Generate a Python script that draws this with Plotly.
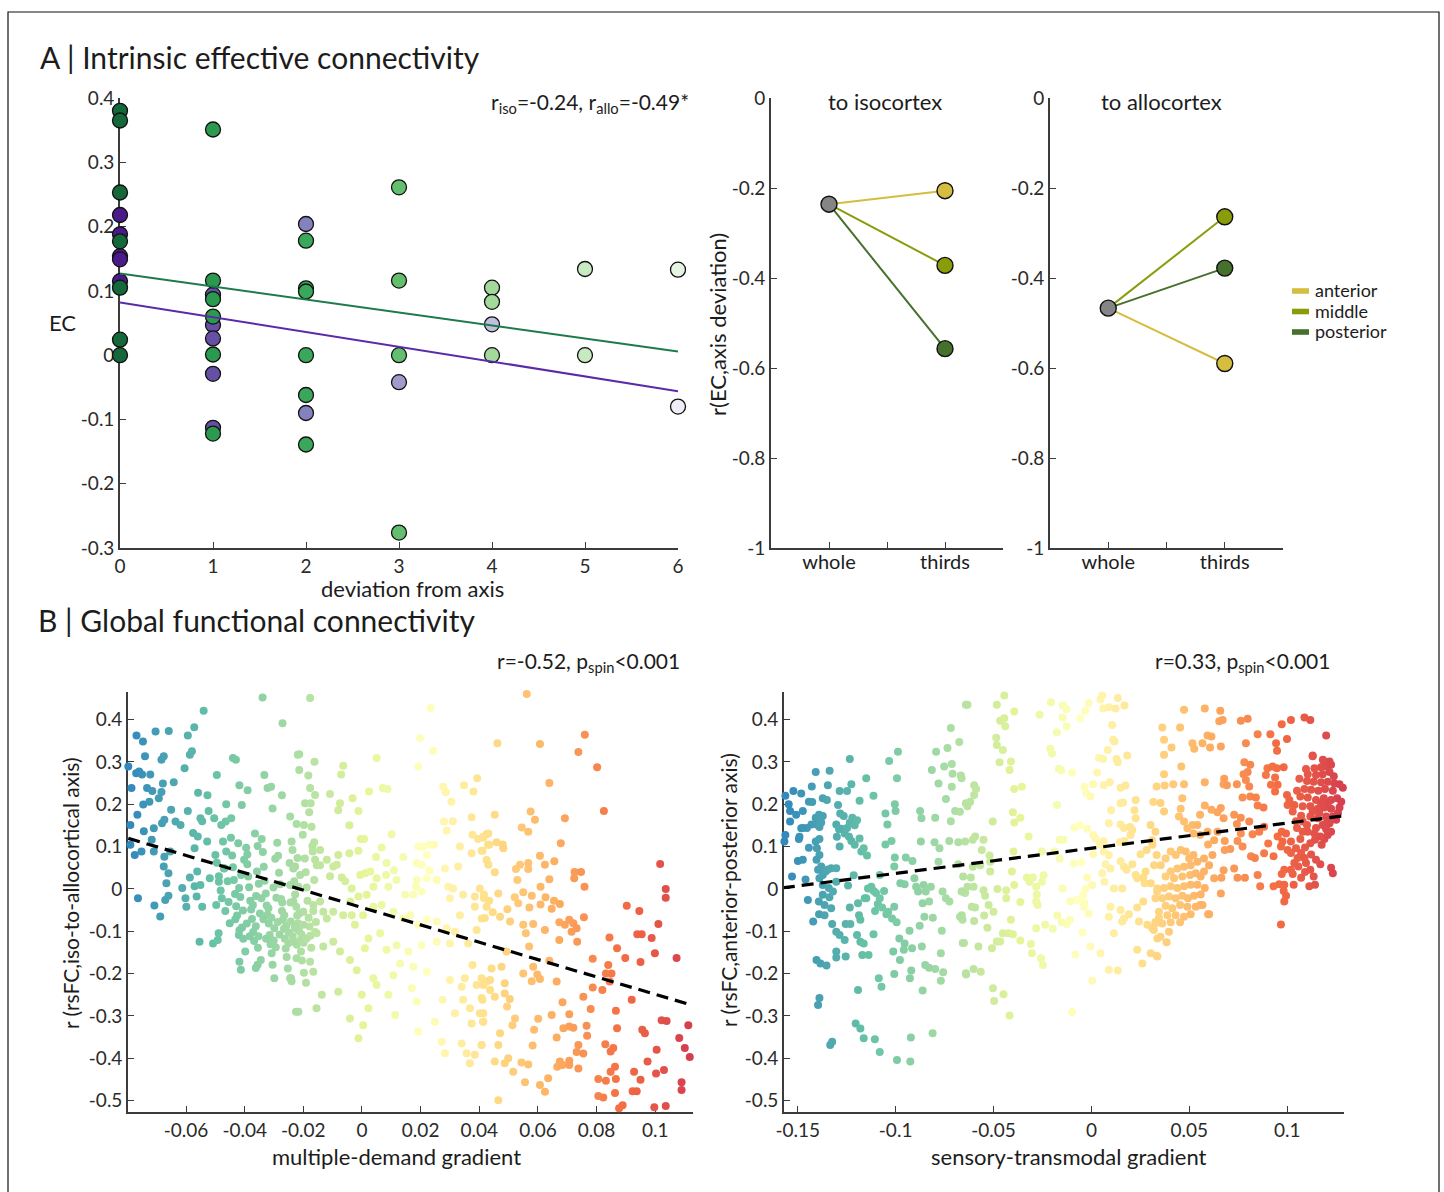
import plotly.graph_objects as go

# ---------------------------------------------------------------- canvas
W, H = 1444, 1192
FONT = "Lato, 'Open Sans', sans-serif"
INK = "#1c1c1c"
AXC = "#3c3c3c"

# ---------------------------------------------------------------- A: EC vs deviation
dev_ticks = [0, 1, 2, 3, 4, 5, 6]
ec_ticks = [-0.3, -0.2, -0.1, 0, 0.1, 0.2, 0.3, 0.4]

green_dev = [0, 0, 0, 0, 0, 0, 0, 1, 1, 1, 1, 1, 1, 2, 2, 2, 2, 2, 2, 3, 3, 3, 3, 4, 4, 4, 5, 5, 6]
green_ec = [0.380, 0.365, 0.253, 0.177, 0.105, 0.024, 0.000,
            0.351, 0.116, 0.087, 0.060, 0.001, -0.122,
            0.178, 0.104, 0.099, 0.000, -0.062, -0.139,
            0.261, 0.116, 0.000, -0.276,
            0.105, 0.083, 0.000,
            0.134, 0.000,
            0.133]
purple_dev = [0, 0, 0, 0, 0, 1, 1, 1, 1, 1, 2, 2, 3, 4, 6]
purple_ec = [0.218, 0.188, 0.154, 0.149, 0.115,
             0.094, 0.047, 0.026, -0.029, -0.113,
             0.204, -0.090,
             -0.042,
             0.048,
             -0.080]
green_shades = ["#15683a", "#2b9a4e", "#3aa85a", "#63be6d", "#a3da9c", "#c8eac1", "#e6f5e1"]
purple_shades = ["#4a1a8a", "#6650a6", "#8580c0", "#9f9bcb", "#c0c0de", "#dcdaee", "#efedf6"]
green_fit = (0.127, -0.0202)    # intercept, slope
purple_fit = (0.082, -0.0230)

# ---------------------------------------------------------------- A: correlations by thirds
region_names = ["anterior", "middle", "posterior"]
region_colors = ["#d5bd40", "#8b9c0b", "#45712d"]
stage_pos = [1, 2]
stage_labels = ["whole", "thirds"]
iso_whole = -0.236
iso_thirds = [-0.206, -0.372, -0.557]
allo_whole = -0.467
allo_thirds = [-0.590, -0.264, -0.378]
r_ticks = [-1, -0.8, -0.6, -0.4, -0.2, 0]

# ---------------------------------------------------------------- B: multiple-demand gradient
md_edge = [(-0.0797, 0.289), (-0.0786, 0.238), (-0.0790, 0.151), (-0.0790, 0.104), (-0.0775, 0.080),
           (-0.0770, 0.273), (-0.0760, 0.277), (-0.0750, 0.270), (-0.0769, 0.362), (-0.0747, 0.348),
           (-0.0740, 0.313), (-0.0766, 0.175), (-0.0746, 0.199), (-0.0744, 0.136), (-0.0752, 0.088),
           (-0.0764, -0.022), (-0.0722, 0.270), (-0.0733, 0.238), (-0.0725, 0.206), (-0.0715, 0.231),
           (-0.0717, 0.116), (-0.0710, 0.088), (-0.0704, 0.372), (-0.0684, 0.305), (-0.0676, 0.313),
           (-0.0693, 0.214), (-0.0684, 0.229), (-0.0679, 0.249), (-0.0682, 0.155), (-0.0674, 0.163),
           (-0.0710, 0.143), (-0.0659, 0.373), (-0.0642, 0.252), (-0.0651, 0.187), (-0.0674, 0.076),
           (-0.0676, 0.053), (-0.0660, 0.037), (-0.0654, 0.088), (-0.0667, 0.013), (-0.0660, -0.016),
           (-0.0671, -0.026), (-0.0708, -0.039), (-0.0688, -0.065), (-0.0636, 0.159), (-0.0619, 0.151),
           (-0.0613, 0.002), (-0.0602, -0.022), (-0.0599, -0.042), (-0.0594, 0.362), (-0.0587, 0.317),
           (-0.0605, 0.285), (-0.0594, 0.184), (-0.0572, 0.382), (-0.0580, 0.325), (-0.0576, 0.132),
           (-0.0571, 0.096), (-0.0587, 0.027), (-0.0571, 0.006), (-0.0560, 0.124), (-0.0562, 0.041),
           (-0.0551, 0.167), (-0.0540, 0.421), (-0.0559, 0.227), (-0.0545, 0.160), (-0.0551, 0.009),
           (-0.0564, -0.018), (-0.0545, -0.042), (-0.0554, -0.125), (-0.0527, 0.221), (-0.0523, 0.184),
           (-0.0528, 0.112), (-0.0519, 0.025), (-0.0500, 0.080), (-0.0495, 0.269), (-0.0504, 0.167),
           (-0.0508, -0.129), (-0.0492, -0.121), (-0.0489, -0.105), (-0.0497, -0.038), (-0.0488, 0.017)]
md_teal = [(-0.0474, 0.112), (-0.0469, 0.049), (-0.0463, 0.200), (-0.0465, 0.159), (-0.0480, 0.151),
           (-0.0446, 0.167), (-0.0440, 0.309), (-0.0430, 0.305), (-0.0418, 0.245), (-0.0410, 0.198),
           (-0.0420, -0.109), (-0.0418, -0.172), (-0.0413, -0.191), (-0.0390, 0.233), (-0.0362, -0.187),
           (-0.0356, -0.179), (-0.0339, 0.452), (-0.0333, 0.269), (-0.0322, 0.238), (-0.0310, 0.241),
           (-0.0305, 0.190), (-0.0299, -0.211), (-0.0271, 0.391), (-0.0273, 0.221), (-0.0242, -0.211),
           (-0.0225, -0.290), (-0.0219, 0.317)]
md_core = [(-0.0495, 0.062), (-0.0488, 0.030), (-0.0482, -0.004), (-0.0478, -0.022), (-0.0471, 0.048),
           (-0.0466, -0.052), (-0.0463, 0.088), (-0.0458, 0.018), (-0.0455, -0.031), (-0.0451, -0.081),
           (-0.0447, 0.121), (-0.0443, 0.079), (-0.0440, 0.051), (-0.0437, 0.021), (-0.0433, -0.012),
           (-0.0429, -0.041), (-0.0426, -0.063), (-0.0422, 0.108), (-0.0419, 0.002), (-0.0415, -0.019),
           (-0.0412, 0.033), (-0.0409, -0.091), (-0.0405, -0.118), (-0.0402, 0.069), (-0.0398, -0.148),
           (-0.0395, 0.097), (-0.0391, 0.058), (-0.0388, 0.029), (-0.0385, 0.004), (-0.0381, -0.028),
           (-0.0378, -0.049), (-0.0375, -0.071), (-0.0371, -0.102), (-0.0368, -0.123), (-0.0365, 0.131),
           (-0.0361, -0.017), (-0.0358, 0.041), (-0.0355, -0.139), (-0.0352, 0.012), (-0.0348, -0.058),
           (-0.0345, -0.168), (-0.0342, 0.118), (-0.0338, 0.087), (-0.0335, 0.052), (-0.0332, 0.019),
           (-0.0328, -0.011), (-0.0325, -0.039), (-0.0322, -0.061), (-0.0318, -0.082), (-0.0315, -0.109),
           (-0.0312, -0.131), (-0.0308, -0.152), (-0.0305, -0.179), (-0.0302, 0.003), (-0.0299, -0.093),
           (-0.0296, 0.071), (-0.0292, -0.021), (-0.0289, 0.109), (-0.0286, 0.078), (-0.0283, 0.038),
           (-0.0279, 0.011), (-0.0276, -0.024), (-0.0273, -0.052), (-0.0270, -0.073), (-0.0266, -0.094),
           (-0.0263, -0.118), (-0.0260, -0.141), (-0.0257, -0.161), (-0.0253, -0.188), (-0.0250, -0.103),
           (-0.0247, 0.061), (-0.0244, -0.032), (-0.0240, -0.218), (-0.0237, 0.092), (-0.0234, 0.048),
           (-0.0231, 0.018), (-0.0228, -0.013), (-0.0224, -0.042), (-0.0221, -0.063), (-0.0218, -0.081),
           (-0.0215, -0.099), (-0.0211, -0.122), (-0.0208, -0.148), (-0.0205, -0.169), (-0.0202, 0.128),
           (-0.0198, -0.198), (-0.0195, 0.072), (-0.0192, 0.039), (-0.0189, 0.003), (-0.0186, -0.028),
           (-0.0182, -0.068), (-0.0179, -0.089), (-0.0176, -0.111), (-0.0173, -0.139), (-0.0169, 0.101),
           (-0.0166, -0.052), (-0.0163, 0.021), (-0.0160, -0.102), (-0.0157, -0.078), (-0.0154, 0.056),
           (-0.0432, -0.072), (-0.0418, -0.098), (-0.0406, -0.051), (-0.0393, -0.082), (-0.0383, -0.112),
           (-0.0372, -0.038), (-0.0362, -0.088), (-0.0353, -0.112), (-0.0343, -0.022), (-0.0336, -0.072),
           (-0.0327, -0.118), (-0.0319, -0.046), (-0.0309, -0.068), (-0.0301, -0.122), (-0.0294, -0.138),
           (-0.0287, -0.078), (-0.0281, -0.108), (-0.0272, -0.032), (-0.0265, -0.062), (-0.0258, -0.087),
           (-0.0251, -0.128), (-0.0243, -0.077), (-0.0236, -0.112), (-0.0229, -0.091), (-0.0222, -0.132),
           (-0.0214, -0.058), (-0.0206, -0.108), (-0.0199, -0.127), (-0.0391, 0.081), (-0.0356, 0.101)]
md_mid = [(-0.0177, 0.451), (-0.0214, 0.318), (-0.0214, 0.281), (-0.0162, 0.300), (-0.0183, 0.268),
          (-0.0064, 0.291), (-0.0071, 0.270), (-0.0177, 0.238), (-0.0160, 0.222), (-0.0109, 0.224),
          (-0.0194, 0.202), (-0.0175, 0.202), (-0.0180, 0.181), (-0.0075, 0.202), (-0.0081, 0.186),
          (-0.0032, 0.214), (-0.0012, 0.184), (-0.0043, 0.150), (0.0024, 0.230), (0.0050, 0.309),
          (0.0071, 0.238), (0.0087, 0.236), (-0.0198, 0.151), (-0.0172, 0.147), (-0.0223, 0.153),
          (-0.0245, 0.171), (-0.0240, 0.112), (-0.0163, 0.110), (-0.0168, 0.088), (-0.0143, 0.092),
          (-0.0160, 0.069), (-0.0143, 0.056), (-0.0120, 0.069), (-0.0098, 0.053), (-0.0086, 0.057),
          (-0.0109, 0.030), (-0.0081, 0.080), (-0.0043, 0.084), (-0.0012, 0.090), (-0.0004, 0.118),
          (0.0007, 0.118), (0.0067, 0.098), (0.0101, 0.129), (0.0048, 0.075), (0.0084, 0.061),
          (0.0141, 0.075), (-0.0220, 0.073), (-0.0228, 0.053), (-0.0211, 0.033), (-0.0245, 0.009),
          (-0.0217, 0.005), (-0.0069, 0.027), (-0.0057, 0.018), (-0.0006, 0.033), (0.0011, 0.037),
          (0.0028, 0.041), (0.0050, 0.025), (0.0082, 0.033), (0.0109, 0.044), (0.0118, 0.021),
          (0.0090, 0.005), (0.0039, 0.005), (-0.0035, 0.001), (0.0016, -0.014), (-0.0012, -0.018),
          (-0.0040, -0.030), (0.0147, -0.014), (0.0175, -0.014), (0.0184, 0.005), (0.0187, 0.021),
          (0.0203, -0.006), (0.0221, 0.025), (0.0255, 0.021), (0.0230, 0.044), (0.0187, 0.061),
          (0.0203, 0.057), (0.0221, 0.080), (0.0192, 0.100), (0.0209, 0.100), (0.0230, 0.104),
          (0.0246, 0.104), (0.0283, 0.048), (0.0328, 0.053), (0.0294, 0.005), (0.0311, 0.001),
          (0.0345, -0.014), (0.0385, -0.018), (0.0402, 0.001), (0.0416, -0.022), (0.0334, 0.100),
          (0.0192, 0.289), (0.0198, 0.356), (0.0243, 0.326), (0.0234, 0.427), (0.0391, 0.468),
          (0.0277, 0.241), (0.0286, 0.228), (0.0305, 0.206), (0.0280, 0.159), (0.0310, 0.160),
          (0.0289, 0.137), (0.0348, 0.245), (0.0380, 0.230), (0.0393, 0.261), (0.0374, 0.169),
          (0.0377, 0.128), (0.0396, 0.118), (0.0413, 0.123), (0.0425, 0.129), (0.0408, 0.090),
          (0.0430, 0.104), (0.0374, 0.084), (-0.0234, -0.030), (-0.0200, -0.054), (-0.0166, -0.038),
          (-0.0143, -0.030), (-0.0132, -0.054), (-0.0120, -0.070), (-0.0098, -0.054), (-0.0064, -0.062),
          (-0.0035, -0.062), (-0.0024, -0.085), (0.0004, -0.062), (0.0039, -0.042), (0.0067, -0.038),
          (0.0107, -0.054), (0.0141, -0.070), (0.0164, -0.062), (0.0192, -0.085), (0.0221, -0.073),
          (0.0255, -0.077), (-0.0228, -0.093), (-0.0200, -0.085), (-0.0234, -0.125), (-0.0189, -0.117),
          (-0.0155, -0.105), (-0.0132, -0.136), (-0.0098, -0.125), (-0.0075, -0.148), (-0.0041, -0.168),
          (0.0010, -0.140), (0.0022, -0.117), (0.0062, -0.105), (0.0084, -0.144), (0.0118, -0.133),
          (0.0158, -0.148), (0.0130, -0.176), (0.0107, -0.204), (0.0175, -0.184), (0.0203, -0.133),
          (0.0221, -0.196), (0.0255, -0.125), (-0.0177, -0.172), (-0.0166, -0.196), (-0.0223, -0.164),
          (-0.0245, -0.211), (-0.0191, -0.222), (-0.0137, -0.250), (-0.0155, -0.282), (-0.0081, -0.243),
          (-0.0018, -0.192), (-0.0001, -0.250), (0.0022, -0.282), (0.0039, -0.211), (0.0050, -0.227),
          (0.0090, -0.250), (0.0113, -0.298), (-0.0041, -0.306), (-0.0012, -0.353), (0.0004, -0.322),
          (0.0170, -0.235), (0.0187, -0.266), (0.0192, -0.337), (-0.0217, -0.290), (0.0249, -0.314),
          (0.0272, -0.361), (0.0283, -0.388), (0.0275, -0.262), (0.0300, -0.215), (0.0317, -0.294),
          (0.0340, -0.231), (0.0351, -0.211), (0.0345, -0.262), (0.0368, -0.282), (0.0374, -0.318),
          (0.0340, -0.365), (0.0357, -0.388), (0.0368, -0.412), (0.0385, -0.392), (0.0408, -0.369),
          (0.0402, -0.294), (0.0413, -0.314), (0.0425, -0.219), (0.0408, -0.258), (0.0391, -0.227),
          (0.0377, -0.180), (0.0300, -0.129), (0.0317, -0.101), (0.0334, -0.062), (0.0362, -0.129),
          (0.0391, -0.097), (0.0408, -0.070), (0.0385, -0.042), (0.0425, -0.042), (0.0289, -0.093),
          (0.0300, -0.022)]
md_high = [(0.0562, 0.460), (0.0462, 0.344), (0.0607, 0.342), (0.0760, 0.364), (0.0738, 0.323),
           (0.0802, 0.287), (0.0639, 0.250), (0.0825, 0.184), (0.0453, 0.175), (0.0575, 0.183),
           (0.0590, 0.163), (0.0545, 0.145), (0.0567, 0.135), (0.0692, 0.167), (0.0678, 0.108),
           (0.0414, 0.121), (0.0431, 0.131), (0.0434, 0.104), (0.0459, 0.110), (0.0480, 0.105),
           (0.0482, 0.096), (0.0411, 0.090), (0.0425, 0.068), (0.0431, 0.057), (0.0453, 0.039),
           (0.0525, 0.047), (0.0539, 0.057), (0.0567, 0.061), (0.0567, 0.047), (0.0607, 0.078),
           (0.0624, 0.057), (0.0656, 0.065), (0.0530, 0.021), (0.0639, 0.023), (0.0609, 0.005),
           (0.0550, -0.008), (0.0579, -0.016), (0.0521, -0.020), (0.0533, -0.034), (0.0571, -0.044),
           (0.0609, -0.037), (0.0626, -0.020), (0.0655, -0.028), (0.0675, -0.036), (0.0647, -0.047),
           (0.0725, 0.040), (0.0747, 0.040), (0.0724, 0.025), (0.0759, 0.005), (0.0496, -0.048),
           (0.0505, -0.077), (0.0471, -0.066), (0.0446, -0.055), (0.0419, -0.069), (0.0434, -0.028),
           (0.0465, -0.011), (0.0416, -0.013), (0.0550, -0.085), (0.0584, -0.083), (0.0559, -0.105),
           (0.0570, -0.136), (0.0624, -0.097), (0.0673, -0.079), (0.0692, -0.085), (0.0707, -0.073),
           (0.0721, -0.081), (0.0732, -0.093), (0.0715, -0.101), (0.0673, -0.121), (0.0734, -0.125),
           (0.0757, -0.067), (0.0493, -0.148), (0.0442, -0.188), (0.0476, -0.184), (0.0550, -0.200),
           (0.0584, -0.184), (0.0598, -0.202), (0.0579, -0.218), (0.0607, -0.213), (0.0639, -0.170),
           (0.0664, -0.219), (0.0408, -0.211), (0.0437, -0.215), (0.0414, -0.227), (0.0437, -0.239),
           (0.0487, -0.223), (0.0411, -0.262), (0.0453, -0.255), (0.0487, -0.247), (0.0504, -0.260),
           (0.0495, -0.278), (0.0414, -0.294), (0.0414, -0.314), (0.0522, -0.306), (0.0513, -0.322),
           (0.0471, -0.341), (0.0408, -0.369), (0.0465, -0.369), (0.0453, -0.408), (0.0487, -0.412),
           (0.0499, -0.400), (0.0516, -0.432), (0.0544, -0.410), (0.0567, -0.415), (0.0556, -0.457),
           (0.0465, -0.499), (0.0582, -0.370), (0.0587, -0.333), (0.0601, -0.307), (0.0647, -0.298),
           (0.0664, -0.351), (0.0684, -0.268), (0.0707, -0.296), (0.0687, -0.329), (0.0707, -0.325),
           (0.0721, -0.328), (0.0738, -0.369), (0.0732, -0.385), (0.0755, -0.389), (0.0675, -0.408),
           (0.0666, -0.420), (0.0684, -0.416), (0.0707, -0.406), (0.0707, -0.416), (0.0738, -0.424),
           (0.0635, -0.447), (0.0607, -0.463), (0.0624, -0.479), (0.0766, -0.323), (0.0768, -0.347),
           (0.0755, -0.255), (0.0780, -0.284), (0.0787, -0.233), (0.0787, -0.165), (0.0820, -0.239),
           (0.0840, -0.180), (0.0851, -0.200), (0.0845, -0.219), (0.0832, -0.200), (0.0870, -0.140),
           (0.0844, -0.115), (0.0866, -0.288), (0.0870, -0.329), (0.0830, -0.367), (0.0857, -0.376),
           (0.0848, -0.384), (0.0863, -0.420), (0.0848, -0.432), (0.0866, -0.449), (0.0806, -0.449),
           (0.0832, -0.453), (0.0806, -0.489), (0.0823, -0.493), (0.0863, -0.482), (0.0877, -0.518),
           (0.0889, -0.511), (0.0898, -0.163), (0.0903, -0.040), (0.0946, -0.052), (0.0939, -0.107),
           (0.0954, -0.107), (0.0950, -0.173), (0.0988, -0.116), (0.0999, -0.152), (0.1011, -0.083),
           (0.1017, 0.059), (0.1036, 0.000), (0.1036, -0.021), (0.1073, -0.163), (0.0920, -0.262),
           (0.0956, -0.333), (0.0965, -0.341), (0.1022, -0.310), (0.1039, -0.312), (0.1005, -0.380),
           (0.0974, -0.408), (0.1030, -0.428), (0.1003, -0.436), (0.0928, -0.432), (0.0950, -0.451),
           (0.0923, -0.478), (0.0937, -0.478), (0.0997, -0.516), (0.1036, -0.513), (0.1082, -0.352),
           (0.1101, -0.376), (0.1113, -0.322), (0.1118, -0.397), (0.1090, -0.457), (0.1090, -0.475)]
md_fit = (-0.044, -2.05)        # intercept, slope

# ---------------------------------------------------------------- B: sensory-transmodal gradient
st_low = [(-0.1576, 0.082), (-0.1568, 0.112), (-0.1563, 0.127), (-0.1563, 0.220), (-0.1546, 0.200),
          (-0.1539, 0.184), (-0.1539, 0.159), (-0.1522, 0.231), (-0.1529, 0.029), (-0.1508, 0.175),
          (-0.1491, 0.123), (-0.1494, 0.118), (-0.1499, 0.066), (-0.1482, 0.225), (-0.1474, 0.184),
          (-0.1482, 0.143), (-0.1474, 0.069), (-0.1460, 0.022), (-0.1448, -0.026), (-0.1443, 0.206),
          (-0.1426, 0.205), (-0.1428, 0.242), (-0.1430, 0.152), (-0.1453, 0.144), (-0.1474, 0.144),
          (-0.1443, 0.097), (-0.1421, -0.077), (-0.1408, 0.276), (-0.1408, 0.168), (-0.1391, 0.175),
          (-0.1404, 0.152), (-0.1389, 0.146), (-0.1380, 0.157), (-0.1372, 0.172), (-0.1372, 0.214),
          (-0.1408, 0.112), (-0.1402, 0.096), (-0.1389, 0.118), (-0.1389, 0.080), (-0.1404, 0.069),
          (-0.1396, 0.045), (-0.1380, 0.053), (-0.1389, 0.025), (-0.1372, 0.033), (-0.1358, 0.041),
          (-0.1346, 0.046), (-0.1372, 0.009), (-0.1392, -0.030), (-0.1372, -0.014), (-0.1363, -0.038),
          (-0.1341, 0.002), (-0.1338, -0.020), (-0.1320, -0.006), (-0.1329, -0.046), (-0.1391, -0.060),
          (-0.1363, -0.062), (-0.1404, -0.168), (-0.1384, -0.176), (-0.1353, -0.181), (-0.1389, -0.258),
          (-0.1396, -0.274), (-0.1324, -0.361), (-0.1334, -0.369), (-0.1337, 0.279), (-0.1346, 0.245),
          (-0.1351, 0.210), (-0.1329, 0.049), (-0.1303, 0.049), (-0.1300, 0.123), (-0.1286, 0.100),
          (-0.1303, 0.152), (-0.1289, 0.141), (-0.1283, 0.178), (-0.1294, 0.198), (-0.1286, 0.231),
          (-0.1248, 0.231), (-0.1234, 0.307), (-0.1226, 0.247), (-0.1265, 0.172), (-0.1277, 0.142),
          (-0.1260, 0.131), (-0.1248, 0.144), (-0.1234, 0.157), (-0.1221, 0.168), (-0.1209, 0.150),
          (-0.1197, 0.162), (-0.1226, 0.113), (-0.1238, 0.123), (-0.1184, 0.119), (-0.1209, 0.104),
          (-0.1175, 0.088), (-0.1163, 0.096), (-0.1146, 0.079), (-0.1184, 0.208), (-0.1150, 0.261),
          (-0.1113, 0.220), (-0.1214, 0.032), (-0.1243, 0.008), (-0.1303, 0.017), (-0.1324, -0.083),
          (-0.1303, -0.101), (-0.1286, -0.109), (-0.1255, -0.083), (-0.1231, -0.083), (-0.1260, -0.121),
          (-0.1303, -0.148), (-0.1303, -0.162), (-0.1255, -0.160), (-0.1234, -0.044), (-0.1192, -0.034),
          (-0.1187, -0.062), (-0.1180, -0.073), (-0.1197, -0.109), (-0.1180, -0.125), (-0.1163, -0.129),
          (-0.1170, -0.156), (-0.1192, -0.239), (-0.1204, -0.318), (-0.1180, -0.330), (-0.1163, -0.353),
          (-0.1158, -0.022), (-0.1141, 0.001), (-0.1124, 0.005), (-0.1150, -0.022), (-0.1112, -0.005),
          (-0.1100, -0.010), (-0.1091, -0.036), (-0.1105, -0.052), (-0.1113, -0.107), (-0.1138, -0.156),
          (-0.1081, 0.033), (-0.1081, -0.022), (-0.1059, -0.005), (-0.1069, -0.044), (-0.1047, -0.060),
          (-0.1038, -0.054), (-0.1018, -0.070), (-0.0995, -0.079), (-0.1007, -0.042), (-0.1042, 0.152),
          (-0.1052, 0.178), (-0.1052, 0.105), (-0.1021, 0.113), (-0.1004, 0.074), (-0.1007, 0.053),
          (-0.1033, 0.302), (-0.0988, 0.324), (-0.0993, 0.261), (-0.1004, 0.200), (-0.1000, 0.184),
          (-0.1012, -0.148), (-0.0978, -0.168), (-0.1007, -0.201), (-0.1086, -0.211), (-0.1072, -0.231),
          (-0.1106, -0.355), (-0.1081, -0.385), (-0.0993, -0.404), (-0.0925, -0.408), (-0.0922, -0.351),
          (-0.0811, -0.341), (-0.0976, 0.013), (-0.0954, 0.011), (-0.0981, -0.117), (-0.0954, -0.129),
          (-0.0958, -0.144), (-0.0929, -0.099), (-0.0904, 0.025), (-0.0895, 0.005), (-0.0948, 0.074),
          (-0.0914, 0.066), (-0.0875, 0.184), (-0.0868, 0.167), (-0.0871, 0.112), (-0.0885, -0.006),
          (-0.0857, 0.009), (-0.0846, -0.006), (-0.0820, 0.005), (-0.0829, -0.030), (-0.0862, -0.034),
          (-0.0853, -0.066), (-0.0810, -0.068), (-0.0815, 0.281), (-0.0781, 0.249), (-0.0798, 0.168),
          (-0.0801, 0.110), (-0.0781, 0.064), (-0.0776, 0.096), (-0.0793, 0.324), (-0.0760, -0.006),
          (-0.0743, -0.022), (-0.0725, -0.030), (-0.0764, -0.099), (-0.0769, -0.152), (-0.0757, -0.197),
          (-0.0769, -0.217), (-0.0798, -0.189), (-0.0849, -0.180), (-0.0829, -0.186), (-0.0862, -0.240),
          (-0.0916, -0.140), (-0.0927, -0.211), (-0.0920, -0.193), (-0.0877, -0.087), (-0.0866, -0.136),
          (-0.0752, 0.289), (-0.0735, 0.333), (-0.0718, 0.380), (-0.0675, 0.347), (-0.0713, 0.295),
          (-0.0709, 0.272), (-0.0713, 0.241), (-0.0743, 0.212), (-0.0718, 0.160), (-0.0726, 0.113),
          (-0.0696, 0.184), (-0.0672, 0.182), (-0.0667, 0.268), (-0.0641, 0.202), (-0.0641, 0.435),
          (-0.0680, 0.058), (-0.0655, 0.029), (-0.0658, -0.006), (-0.0662, -0.062), (-0.0658, -0.073),
          (-0.0651, -0.128), (-0.0641, -0.199), (-0.0680, 0.110)]
st_mid = [(-0.0633, 0.435), (-0.0663, 0.261), (-0.0599, 0.245), (-0.0599, 0.222), (-0.0619, 0.206),
          (-0.0633, 0.195), (-0.0483, 0.435), (-0.0445, 0.457), (-0.0466, 0.397), (-0.0445, 0.403),
          (-0.0440, 0.384), (-0.0394, 0.419), (-0.0486, 0.357), (-0.0483, 0.340), (-0.0452, 0.328),
          (-0.0469, 0.299), (-0.0411, 0.301), (-0.0418, 0.281), (-0.0589, 0.236), (-0.0394, 0.236),
          (-0.0355, 0.241), (-0.0504, 0.159), (-0.0401, 0.181), (-0.0363, 0.168), (-0.0394, 0.157),
          (-0.0645, 0.112), (-0.0606, 0.116), (-0.0594, 0.124), (-0.0551, 0.116), (-0.0560, 0.092),
          (-0.0520, 0.079), (-0.0517, 0.064), (-0.0398, 0.088), (-0.0321, 0.124), (-0.0606, 0.052),
          (-0.0568, 0.056), (-0.0616, 0.027), (-0.0517, 0.041), (-0.0406, 0.041), (-0.0633, 0.005),
          (-0.0602, 0.005), (-0.0645, -0.010), (-0.0663, -0.006), (-0.0551, -0.003), (-0.0543, -0.016),
          (-0.0480, 0.000), (-0.0435, -0.003), (-0.0394, 0.009), (-0.0329, 0.027), (-0.0316, 0.017),
          (-0.0299, 0.027), (-0.0282, 0.005), (-0.0253, 0.017), (-0.0244, 0.032), (-0.0279, -0.014),
          (-0.0282, -0.030), (-0.0275, -0.038), (-0.0363, -0.031), (-0.0435, -0.022), (-0.0525, -0.038),
          (-0.0500, -0.054), (-0.0611, -0.042), (-0.0594, -0.044), (-0.0671, -0.066), (-0.0548, -0.063),
          (-0.0531, -0.092), (-0.0599, -0.076), (-0.0411, -0.073), (-0.0452, -0.105), (-0.0423, -0.105),
          (-0.0401, -0.107), (-0.0363, -0.122), (-0.0483, -0.124), (-0.0508, -0.140), (-0.0466, -0.124),
          (-0.0657, -0.128), (-0.0577, -0.136), (-0.0309, -0.130), (-0.0304, -0.152), (-0.0258, -0.164),
          (-0.0248, -0.180), (-0.0282, -0.093), (-0.0236, -0.085), (-0.0197, -0.094), (-0.0640, -0.202),
          (-0.0602, -0.189), (-0.0565, -0.196), (-0.0503, -0.235), (-0.0449, -0.249), (-0.0497, -0.265),
          (-0.0418, -0.299), (-0.0265, 0.411), (-0.0207, 0.441), (-0.0210, 0.331), (-0.0201, 0.320),
          (-0.0166, 0.284), (-0.0154, 0.280), (-0.0176, 0.370), (-0.0147, 0.433), (-0.0128, 0.425),
          (-0.0147, 0.405), (-0.0126, 0.384), (-0.0099, 0.275), (-0.0176, 0.198), (-0.0162, 0.116),
          (-0.0142, 0.116), (-0.0162, 0.071), (-0.0189, 0.088), (-0.0253, 0.088), (-0.0147, 0.001),
          (-0.0174, -0.063), (-0.0152, -0.079), (-0.0126, -0.083), (-0.0111, -0.073), (-0.0108, -0.030),
          (-0.0074, -0.026), (-0.0043, -0.016), (-0.0036, -0.034), (-0.0082, -0.155), (-0.0099, -0.291),
          (-0.0087, 0.145), (-0.0060, 0.150), (-0.0022, 0.142), (-0.0089, 0.060), (-0.0051, 0.063),
          (-0.0046, -0.103), (-0.0056, 0.403), (-0.0031, 0.421), (-0.0014, 0.439), (0.0046, 0.447),
          (0.0055, 0.457), (0.0060, 0.426), (0.0089, 0.429), (0.0123, 0.426), (0.0135, 0.451),
          (0.0169, 0.433), (0.0106, 0.387), (0.0111, 0.352), (0.0118, 0.348), (0.0084, 0.328),
          (0.0038, 0.310), (0.0060, 0.307), (0.0128, 0.307), (0.0135, 0.299), (0.0183, 0.315),
          (0.0029, 0.275), (-0.0036, 0.241), (-0.0026, 0.226), (-0.0005, 0.218), (0.0009, 0.247),
          (0.0063, 0.245), (0.0094, 0.252), (0.0149, 0.239), (0.0174, 0.244), (0.0162, 0.204),
          (0.0149, 0.202), (0.0101, 0.186), (0.0089, 0.155), (0.0149, 0.152), (0.0166, 0.144),
          (0.0197, 0.146), (0.0209, 0.139), (0.0200, 0.127), (0.0220, 0.186), (0.0226, 0.167),
          (0.0226, 0.210), (0.0009, 0.127), (0.0021, 0.119), (0.0043, 0.105), (0.0063, 0.113),
          (0.0009, 0.082), (0.0063, 0.088), (0.0089, 0.080), (0.0072, 0.058), (0.0097, 0.048),
          (0.0149, 0.065), (0.0145, 0.110), (0.0169, 0.113), (0.0166, 0.052), (0.0180, 0.045),
          (0.0209, 0.058), (0.0226, 0.033), (0.0234, 0.025), (0.0265, 0.027), (0.0272, 0.013),
          (0.0303, 0.013), (0.0277, 0.041), (0.0320, 0.056), (0.0311, 0.104), (0.0282, 0.092),
          (0.0251, 0.082), (-0.0022, 0.027), (0.0004, 0.009), (-0.0031, 0.000), (0.0055, 0.037),
          (0.0067, 0.017), (0.0115, 0.001), (0.0157, 0.001), (-0.0039, -0.042), (-0.0014, -0.058),
          (0.0097, -0.042), (0.0089, -0.066), (0.0149, -0.050), (0.0166, -0.070), (0.0157, -0.077),
          (0.0191, -0.060), (0.0234, -0.044), (0.0265, -0.030), (0.0243, -0.077), (0.0286, -0.085),
          (0.0311, -0.093), (0.0328, -0.081), (0.0345, -0.069), (0.0337, -0.117), (0.0234, -0.144),
          (0.0260, -0.176), (0.0303, -0.152), (0.0337, -0.160), (0.0115, -0.105), (0.0046, -0.152),
          (0.0089, -0.191), (0.0135, -0.193), (-0.0005, -0.136), (0.0004, -0.217), (0.0337, 0.001)]
st_high = [(0.0473, 0.423), (0.0579, 0.426), (0.0658, 0.421), (0.0653, 0.396), (0.0670, 0.399),
           (0.0362, 0.381), (0.0453, 0.381), (0.0371, 0.352), (0.0371, 0.317), (0.0409, 0.334),
           (0.0516, 0.344), (0.0525, 0.331), (0.0567, 0.344), (0.0593, 0.362), (0.0613, 0.360),
           (0.0606, 0.334), (0.0661, 0.336), (0.0763, 0.397), (0.0798, 0.402), (0.0849, 0.365),
           (0.0789, 0.344), (0.0914, 0.365), (0.0943, 0.344), (0.0948, 0.326), (0.0999, 0.354),
           (0.0972, 0.389), (0.1019, 0.399), (0.1088, 0.405), (0.1118, 0.399), (0.1199, 0.362),
           (0.1130, 0.315), (0.0371, 0.271), (0.0459, 0.289), (0.0579, 0.252), (0.0473, 0.247),
           (0.0418, 0.247), (0.0374, 0.244), (0.0333, 0.242), (0.0316, 0.205), (0.0353, 0.203),
           (0.0371, 0.183), (0.0464, 0.214), (0.0456, 0.189), (0.0447, 0.171), (0.0473, 0.159),
           (0.0516, 0.151), (0.0555, 0.175), (0.0579, 0.197), (0.0613, 0.187), (0.0644, 0.181),
           (0.0661, 0.191), (0.0675, 0.167), (0.0678, 0.260), (0.0675, 0.247), (0.0692, 0.245),
           (0.0743, 0.247), (0.0781, 0.299), (0.0811, 0.293), (0.0798, 0.276), (0.0777, 0.271),
           (0.0789, 0.257), (0.0806, 0.242), (0.0772, 0.216), (0.0811, 0.218), (0.0840, 0.216),
           (0.0849, 0.197), (0.0879, 0.192), (0.0891, 0.269), (0.0899, 0.285), (0.0925, 0.289),
           (0.0947, 0.285), (0.0982, 0.287), (0.0938, 0.263), (0.0917, 0.246), (0.0951, 0.246),
           (0.0938, 0.230), (0.0999, 0.222), (0.1011, 0.210), (0.1050, 0.232), (0.0729, 0.175),
           (0.0743, 0.153), (0.0763, 0.168), (0.0806, 0.159), (0.0763, 0.131), (0.0746, 0.113),
           (0.0772, 0.100), (0.0823, 0.129), (0.0857, 0.135), (0.0882, 0.147), (0.0903, 0.107),
           (0.0930, 0.077), (0.0951, 0.124), (0.0976, 0.112), (0.0972, 0.135), (0.0709, 0.094),
           (0.0681, 0.113), (0.0627, 0.115), (0.0644, 0.135), (0.0593, 0.135), (0.0555, 0.127),
           (0.0521, 0.131), (0.0490, 0.143), (0.0541, 0.151), (0.0596, 0.105), (0.0618, 0.080),
           (0.0681, 0.092), (0.0675, 0.044), (0.0729, 0.048), (0.0746, 0.026), (0.0784, 0.026),
           (0.0815, 0.077), (0.0849, 0.033), (0.0862, 0.006), (0.0835, 0.073), (0.0882, 0.084),
           (0.0664, 0.026), (0.0661, -0.011), (0.0596, -0.060), (0.0555, -0.038), (0.0930, 0.006),
           (0.0959, 0.011), (0.0985, 0.010), (0.0972, 0.035), (0.0985, 0.045), (0.0982, -0.005),
           (0.0994, -0.016), (0.0985, -0.030), (0.1033, 0.010), (0.1028, 0.035), (0.0968, -0.084),
           (0.1071, 0.026), (0.1091, 0.040), (0.1135, 0.029), (0.1113, 0.006), (0.1142, 0.010),
           (0.1224, 0.050), (0.1233, 0.037), (0.1118, 0.045), (0.1169, 0.058), (0.1036, 0.061),
           (0.1053, 0.073), (0.1096, 0.061), (0.1019, 0.085), (0.1045, 0.096), (0.1019, 0.112),
           (0.1067, 0.118), (0.1091, 0.098), (0.1118, 0.108), (0.1142, 0.116), (0.1176, 0.104),
           (0.1190, 0.118), (0.1207, 0.127), (0.1224, 0.135), (0.1169, 0.124), (0.1079, 0.135),
           (0.1050, 0.144), (0.1101, 0.151), (0.1147, 0.144), (0.1181, 0.151), (0.1216, 0.155),
           (0.1233, 0.171), (0.1199, 0.171), (0.1156, 0.167), (0.1118, 0.171), (0.1071, 0.173),
           (0.1028, 0.183), (0.1002, 0.198), (0.1036, 0.198), (0.1079, 0.195), (0.1118, 0.195),
           (0.1156, 0.189), (0.1190, 0.192), (0.1224, 0.189), (0.1267, 0.192), (0.1255, 0.214),
           (0.1224, 0.210), (0.1187, 0.214), (0.1147, 0.210), (0.1105, 0.216), (0.1067, 0.218),
           (0.1088, 0.236), (0.1122, 0.234), (0.1159, 0.232), (0.1193, 0.236), (0.1233, 0.232),
           (0.1284, 0.239), (0.1267, 0.247), (0.1241, 0.249), (0.1207, 0.253), (0.1173, 0.252),
           (0.1135, 0.253), (0.1101, 0.255), (0.1062, 0.260), (0.1105, 0.271), (0.1147, 0.269),
           (0.1181, 0.271), (0.1216, 0.276), (0.1238, 0.266), (0.1199, 0.289), (0.1173, 0.287),
           (0.1139, 0.285), (0.1224, 0.293), (0.1187, 0.302), (0.1216, 0.301), (0.1182, 0.305),
           (0.1096, 0.283), (0.1130, 0.313), (0.1045, 0.160), (0.1079, 0.159), (0.1164, 0.179),
           (0.1130, 0.183), (0.1207, 0.202), (0.1173, 0.202), (0.1204, 0.159), (0.1105, 0.135),
           (0.1139, 0.131), (0.1199, 0.141), (0.0994, 0.131), (0.0968, 0.100), (0.1002, 0.092),
           (0.1071, 0.085), (0.1122, 0.081), (0.1147, 0.069), (0.1088, 0.073), (0.1057, 0.053),
           (0.1019, 0.045), (0.1250, 0.163), (0.1259, 0.179), (0.1276, 0.206), (0.1293, 0.226),
           (0.0302, 0.151), (0.0327, 0.135), (0.0310, 0.115), (0.0333, 0.080), (0.0354, 0.056),
           (0.0379, 0.072), (0.0405, 0.088), (0.0431, 0.080), (0.0456, 0.092), (0.0482, 0.088),
           (0.0499, 0.072), (0.0521, 0.080), (0.0541, 0.064), (0.0507, 0.056), (0.0473, 0.052),
           (0.0439, 0.048), (0.0405, 0.041), (0.0379, 0.029), (0.0422, 0.025), (0.0464, 0.029),
           (0.0504, 0.033), (0.0533, 0.037), (0.0558, 0.029), (0.0575, 0.041), (0.0507, 0.010),
           (0.0473, 0.006), (0.0439, 0.002), (0.0405, 0.006), (0.0371, 0.002), (0.0336, -0.006),
           (0.0327, -0.022), (0.0362, -0.022), (0.0396, -0.018), (0.0430, -0.022), (0.0464, -0.016),
           (0.0493, -0.022), (0.0524, -0.016), (0.0558, -0.013), (0.0579, 0.002), (0.0541, 0.010),
           (0.0567, -0.038), (0.0533, -0.042), (0.0490, -0.042), (0.0453, -0.038), (0.0413, -0.046),
           (0.0379, -0.040), (0.0345, -0.054), (0.0388, -0.062), (0.0430, -0.062), (0.0473, -0.066),
           (0.0507, -0.060), (0.0453, -0.079), (0.0405, -0.079), (0.0362, -0.082), (0.0327, -0.078),
           (0.0319, -0.097), (0.0396, -0.101), (0.0353, -0.113), (0.0384, -0.126), (0.0333, -0.158),
           (0.0601, -0.060), (0.0627, 0.025), (0.0601, 0.056), (0.0575, 0.072)]
st_fit = (0.096, 0.594)         # intercept, slope

# Spectral (reversed) ramp used to colour points by their gradient value
spectral = [[0.0, "#3288bd"], [0.15, "#66c2a5"], [0.3, "#abdda4"], [0.42, "#e6f598"],
            [0.53, "#ffffbf"], [0.64, "#fee08b"], [0.76, "#fdae61"], [0.88, "#f46d43"],
            [1.0, "#d53e4f"]]

md_pts = md_edge + md_teal + md_core + md_mid + md_high
st_pts = st_low + st_mid + st_high
md_x = [p[0] for p in md_pts]
md_y = [p[1] for p in md_pts]
st_x = [p[0] for p in st_pts]
st_y = [p[1] for p in st_pts]


def fx(p):
    return p / W


def fy(p):
    return 1 - p / H


def fmt(v):
    s = ("%.2f" % v).rstrip("0").rstrip(".")
    return "0" if s in ("-0", "") else s


fig = go.Figure()

# ---- A, left: EC scatter coloured by deviation
fig.add_trace(go.Scatter(
    x=purple_dev, y=purple_ec, mode="markers", xaxis="x", yaxis="y", cliponaxis=False,
    marker=dict(size=15, color=[purple_shades[d] for d in purple_dev],
                line=dict(color="#111111", width=1.3)),
    showlegend=False))
fig.add_trace(go.Scatter(
    x=green_dev, y=green_ec, mode="markers", xaxis="x", yaxis="y", cliponaxis=False,
    marker=dict(size=15, color=[green_shades[d] for d in green_dev],
                line=dict(color="#111111", width=1.3)),
    showlegend=False))
for (b0, b1), col in ((green_fit, "#1e7a4a"), (purple_fit, "#5a2aa8")):
    xs = [min(dev_ticks), max(dev_ticks)]
    fig.add_trace(go.Scatter(x=xs, y=[b0 + b1 * v for v in xs], mode="lines",
                             xaxis="x", yaxis="y", line=dict(color=col, width=2),
                             showlegend=False, hoverinfo="skip"))

# ---- A, middle and right: whole vs thirds
for ax, whole, thirds in (("2", iso_whole, iso_thirds), ("3", allo_whole, allo_thirds)):
    for name, col, val in zip(region_names, region_colors, thirds):
        fig.add_trace(go.Scatter(x=stage_pos, y=[whole, val], mode="lines",
                                 xaxis="x" + ax, yaxis="y" + ax,
                                 line=dict(color=col, width=2), showlegend=False, name=name))
    fig.add_trace(go.Scatter(x=[stage_pos[0]], y=[whole], mode="markers",
                             xaxis="x" + ax, yaxis="y" + ax, cliponaxis=False,
                             marker=dict(size=16, color="#858585", line=dict(color="#111111", width=1.4)),
                             showlegend=False))
    fig.add_trace(go.Scatter(x=[stage_pos[1]] * len(thirds), y=thirds, mode="markers",
                             xaxis="x" + ax, yaxis="y" + ax, cliponaxis=False,
                             marker=dict(size=16, color=region_colors, line=dict(color="#111111", width=1.4)),
                             showlegend=False))

# ---- B: gradient scatters with regression lines
for ax, xs, ys, fit in (("4", md_x, md_y, md_fit), ("5", st_x, st_y, st_fit)):
    fig.add_trace(go.Scatter(x=xs, y=ys, mode="markers", xaxis="x" + ax, yaxis="y" + ax,
                             cliponaxis=False,
                             marker=dict(size=8, color=xs, colorscale=spectral,
                                         cmin=min(xs), cmax=max(xs), line=dict(width=0)),
                             showlegend=False))
    ends = [min(xs), max(xs)]
    fig.add_trace(go.Scatter(x=ends, y=[fit[0] + fit[1] * v for v in ends], mode="lines",
                             xaxis="x" + ax, yaxis="y" + ax,
                             line=dict(color="#000000", width=3.2, dash="12px,7px"),
                             showlegend=False, hoverinfo="skip"))


def axis(domain, rng, tickvals, ticktext, anchor, size=19):
    return dict(domain=domain, range=rng, tickvals=tickvals, ticktext=ticktext, anchor=anchor,
                automargin=False,
                showline=True, linecolor=AXC, linewidth=1.6, ticks="inside", ticklen=6,
                tickwidth=1.3, tickcolor=AXC, showgrid=False, zeroline=False,
                tickfont=dict(family=FONT, size=size, color="#2a2a2a"),
                layer="below traces", fixedrange=True)


ya = [fy(548), fy(98)]
yb = [fy(1112), fy(692)]
b_ticks = [-0.5, -0.4, -0.3, -0.2, -0.1, 0, 0.1, 0.2, 0.3, 0.4]
md_ticks = [-0.06, -0.04, -0.02, 0, 0.02, 0.04, 0.06, 0.08, 0.1]
st_ticks = [-0.15, -0.1, -0.05, 0, 0.05, 0.1]
minor_half = dict(ticks="inside", ticklen=6, tickcolor=AXC, tickwidth=1.3, dtick=0.5, tick0=0.5)

fig.update_layout(
    width=W, height=H, autosize=False,
    margin=dict(l=0, r=0, t=0, b=0),
    paper_bgcolor="white", plot_bgcolor="white",
    font=dict(family=FONT, color=INK),
    xaxis=axis([fx(120), fx(678)], [0, 6], dev_ticks, [str(v) for v in dev_ticks], "y"),
    yaxis=axis(ya, [-0.3, 0.4], ec_ticks, [fmt(v) for v in ec_ticks], "x"),
    xaxis2=axis([fx(771), fx(1003)], [0.5, 2.5], stage_pos, stage_labels, "y2", size=20),
    yaxis2=axis(ya, [-1, 0], r_ticks, [fmt(v) for v in r_ticks], "x2"),
    xaxis3=axis([fx(1050), fx(1283)], [0.5, 2.5], stage_pos, stage_labels, "y3", size=20),
    yaxis3=axis(ya, [-1, 0], r_ticks, [fmt(v) for v in r_ticks], "x3"),
    xaxis4=axis([fx(128), fx(693)], [-0.0798, 0.1129], md_ticks, [fmt(v) for v in md_ticks], "y4"),
    yaxis4=axis(yb, [-0.527, 0.465], b_ticks, [fmt(v) for v in b_ticks], "x4"),
    xaxis5=axis([fx(784), fx(1344)], [-0.157, 0.129], st_ticks, [fmt(v) for v in st_ticks], "y5"),
    yaxis5=axis(yb, [-0.527, 0.465], b_ticks, [fmt(v) for v in b_ticks], "x5"),
)
for k in ("xaxis2", "xaxis3"):
    fig.layout[k].tickfont.color = INK
    fig.layout[k].minor = minor_half
    fig.layout[k].ticklabelstandoff = -5


def label(text, x, y, size=20, xanchor="center", angle=0):
    fig.add_annotation(text=text, x=fx(x), y=fy(y), xref="paper", yref="paper",
                       xanchor=xanchor, yanchor="middle", showarrow=False, textangle=angle,
                       font=dict(family=FONT, size=size, color=INK))


label("A | Intrinsic effective connectivity", 38, 57, size=30, xanchor="left")
label("B | Global functional connectivity", 36, 620, size=30, xanchor="left")
label("r<sub>iso</sub>=-0.24, r<sub>allo</sub>=-0.49*", 691, 103, size=21, xanchor="right")
label("EC", 62, 322, size=22)
label("deviation from axis", 412, 588, size=22)
label("r(EC,axis deviation)", 717, 325, size=22, angle=-90)
label("to isocortex", 885, 101, size=22)
label("to allocortex", 1161, 101, size=22)
label("r=-0.52, p<sub>spin</sub>&lt;0.001", 682, 662, size=21, xanchor="right")
label("r=0.33, p<sub>spin</sub>&lt;0.001", 1332, 662, size=21, xanchor="right")
label("r (rsFC,iso-to-allocortical axis)", 70, 893, size=21, angle=-90)
label("r (rsFC,anterior-posterior axis)", 729, 890, size=21, angle=-90)
label("multiple-demand gradient", 396, 1156, size=22)
label("sensory-transmodal gradient", 1069, 1156, size=22)

# legend for the thirds
for i, (name, col) in enumerate(zip(region_names, region_colors)):
    yc = 291 + 20.5 * i
    fig.add_shape(type="rect", xref="paper", yref="paper",
                  x0=fx(1292), x1=fx(1309), y0=fy(yc + 2.8), y1=fy(yc - 2.8),
                  fillcolor=col, line=dict(width=0))
    label(name, 1313, yc - 1, size=18, xanchor="left")

# outer frame
fig.add_shape(type="rect", xref="paper", yref="paper",
              x0=fx(8), x1=fx(1439), y0=fy(1200), y1=fy(12),
              line=dict(color="#111111", width=1.2), fillcolor="rgba(0,0,0,0)")

fig.write_html("out.html")
